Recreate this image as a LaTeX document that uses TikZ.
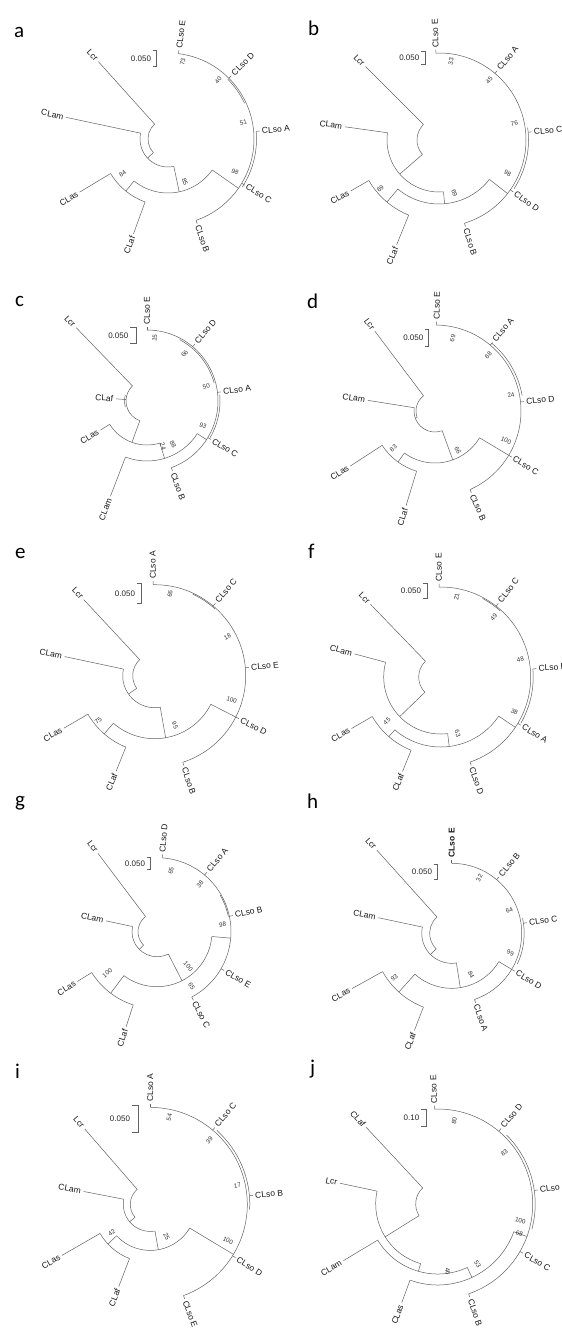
\documentclass[tikz,border=0pt]{standalone}
\usepackage{fontspec}
\setmainfont{Liberation Sans}
\newfontfamily\letterfont{Carlito}
\tikzset{
 br/.style={line width=0.5pt, draw=black!62},
 lab/.style={font=\fontsize{8.5}{10}\selectfont, inner sep=0.6pt, text=black!90},
 bsl/.style={font=\fontsize{6.3}{7}\selectfont, inner sep=0pt, text=black!80},
 plet/.style={font=\letterfont\fontsize{21}{24}\selectfont, inner sep=0pt, anchor=base west},
 sbt/.style={font=\fontsize{8}{9}\selectfont, inner sep=0pt, anchor=east, text=black!85}
}
\newcommand\tArc[3]{\draw[br] ({#2}:{#1}) arc[start angle={#2}, end angle={#3}, radius={#1}];}
\newcommand\tRad[3]{\draw[br] ({#1}:{#2}) -- ({#1}:{#3});}
\newcommand\lfL[4]{\draw[br] ({#1}:{#2}) -- ({#1}:{#3}); \node[lab,rotate={#1-180},anchor=east] at ({#1}:{#3+2}) {#4};}
\newcommand\so[3]{\draw[br] ({#1}:{#2}) -- ({#1}:{#2+3.5}); \node[lab,rotate={#1},anchor=west] at ({#1}:{#2+5}) {#3};}
\newcommand\bsv[3]{%
  \pgfmathsetmacro\bsx{(#1-\zcx)/3}%
  \pgfmathsetmacro\bsy{(\zcy-#2)/3}%
  \pgfmathsetmacro\bsa{atan2(\bsy,\bsx)}%
  \pgfmathsetmacro\bsr{ifthenelse(abs(\bsa)>90,\bsa+180,\bsa)}%
  \node[bsl,rotate=\bsr] at (\bsx,\bsy) {#3};}
\newcommand\scb[5]{\draw[br] (#1,-#3) -- (#2,-#3) -- (#2,-#4) -- (#1,-#4); \node[sbt] at ({#1-1.5},{-(#3+#4)/2}) {#5};}
\begin{document}
\begin{tikzpicture}[x=1pt,y=1pt]
\useasboundingbox (0,0) rectangle (562,-1331);
% panel letters
\node[plet] (la) at (14,-37) {a};
\node[plet] (lb) at (308,-35) {b};
\node[plet] (lc) at (15,-306) {c};
\node[plet] (ld) at (307,-308) {d};
\node[plet] (le) at (15,-558) {e};
\node[plet] (lf) at (308,-558) {f};
\node[plet] (lg) at (15,-806) {g};
\node[plet] (lh) at (307,-808) {h};
\node[plet] (li) at (15,-1078) {i};
\node[plet] (lj) at (310,-1074) {j};
% scale bars
\scb{152.7}{156}{50.7}{66}{0.050}
\scb{421}{425}{51}{64}{0.050}
\scb{130}{136}{327.7}{343.3}{0.050}
\scb{425}{428.3}{329.3}{346.7}{0.050}
\scb{136.7}{141.7}{583}{603.7}{0.050}
\scb{422.7}{427.7}{583.7}{598.7}{0.050}
\scb{146.7}{150.7}{857.3}{869.7}{0.050}
\scb{433.7}{437.7}{864}{879.7}{0.050}
\scb{131.7}{138.3}{1105.7}{1132.3}{0.050}
\scb{421}{426}{1109}{1126.3}{0.10}
% ---- a
\begin{scope}[shift={(168,-139)}]
\def\zcx{504}\def\zcy{416}
\tArc{20}{132}{223} \lfL{132}{20}{104}{Lcr} \tRad{223}{20}{28}
\tArc{28}{168}{282} \lfL{168}{28}{104}{CLam}
\tRad{282}{28}{54} \tArc{54}{231}{325}
\tRad{231}{54}{67} \tArc{67}{211}{250} \lfL{211}{67}{103}{CLas} \lfL{250}{67}{101}{CLaf}
\tRad{325}{54}{86}
\tArc{86}{83}{-71} \tArc{88.5}{5}{-33} \tArc{84.5}{45}{25}
\so{83}{86}{CLso E} \so{45}{86}{CLso D} \so{5}{88.5}{CLso A} \so{-31}{86}{CLso C} \so{-71}{86}{CLso B}
\bsv{548}{185}{73} \bsv{655}{240}{40} \bsv{730}{367}{51} \bsv{705}{515}{98} \bsv{555}{545}{85} \bsv{368}{520}{84}
\end{scope}
% ---- b
\begin{scope}[shift={(439,-140)}]
\def\zcx{474}\def\zcy{420}
\tArc{22}{135}{221} \lfL{135}{22}{104}{Lcr} \tRad{221}{22}{52}
\tArc{52}{172}{275} \lfL{172}{52}{95}{CLam}
\tRad{275}{52}{64} \tArc{64}{230}{322}
\tRad{230}{64}{81} \tArc{81}{210}{248} \lfL{210}{81}{102}{CLas} \lfL{248}{81}{113}{CLaf}
\tRad{322}{64}{87}
\tArc{87}{92}{-73} \tArc{89.5}{8}{-33}
\so{92}{87}{CLso E} \so{50}{87}{CLso A} \so{5}{89.5}{CLso C} \so{-35}{87}{CLso D} \so{-73}{87}{CLso B}
\bsv{510}{185}{33} \bsv{625}{240}{45} \bsv{700}{370}{76} \bsv{680}{520}{98} \bsv{520}{580}{69} \bsv{298}{567}{69}
\end{scope}
% ---- c
\begin{scope}[shift={(147,-401)}]
\def\zcx{442}\def\zcy{404}
\tArc{21}{134}{250} \lfL{134}{21}{102}{Lcr} \lfL{176}{21}{31}{CLaf} \tArc{22.5}{165}{195}
\tRad{250}{21}{44} \tArc{44}{212}{287} \lfL{212}{44}{55}{CLas}
\tRad{287}{44}{60} \tArc{60}{249}{327} \lfL{249}{60}{102}{CLam}
\tRad{327}{60}{71}
\tArc{71}{90}{-70} \tArc{73}{5}{-30} \tArc{69.5}{62}{15}
\so{90}{71}{CLso E} \so{50}{71}{CLso D} \so{7}{71}{CLso A} \so{-31}{71}{CLso C} \so{-70}{71}{CLso B}
\bsv{465}{215}{15} \bsv{555}{262}{66} \bsv{620}{360}{50} \bsv{610}{478}{93} \bsv{490}{540}{24} \bsv{520}{535}{88}
\end{scope}
% ---- d
\begin{scope}[shift={(435,-411)}]
\def\zcx{462}\def\zcy{436}
\tArc{19}{127}{200} \lfL{127}{19}{100}{Lcr} \tRad{200}{19}{21}
\tArc{21}{171}{290} \lfL{171}{21}{68}{CLam}
\tRad{290}{21}{52} \tArc{52}{234}{329}
\tRad{234}{52}{63} \tArc{63}{213}{253} \lfL{213}{63}{101}{CLas} \lfL{253}{63}{99}{CLaf}
\tRad{329}{52}{86}
\tArc{86}{89}{-66} \tArc{88.5}{50}{10}
\so{89}{86}{CLso E} \so{50}{86}{CLso A} \so{6}{86}{CLso D} \so{-31}{86}{CLso C} \so{-66}{86}{CLso B}
\bsv{515}{218}{69} \bsv{622}{268}{68} \bsv{690}{388}{24} \bsv{675}{525}{100} \bsv{530}{555}{66} \bsv{337}{548}{83}
\end{scope}
% ---- e
\begin{scope}[shift={(154.7,-675.7)}]
\def\zcx{464}\def\zcy{431}
\tArc{22}{133}{215} \lfL{133}{22}{104}{Lcr} \tRad{215}{22}{32}
\tArc{32}{168}{280} \lfL{168}{32}{92}{CLam}
\tRad{280}{32}{63} \tArc{63}{229}{333}
\tRad{229}{63}{77} \tArc{77}{210}{248} \lfL{210}{77}{105}{CLas} \lfL{248}{77}{103}{CLaf}
\tRad{333}{63}{91}
\tArc{91}{91}{-72} \tArc{90}{65}{48}
\so{91}{91}{CLso A} \so{50}{91}{CLso C} \so{5}{91}{CLso E} \so{-27}{91}{CLso D} \so{-72}{91}{CLso B}
\bsv{510}{185}{66} \bsv{682}{315}{18} \bsv{695}{505}{100} \bsv{525}{580}{95} \bsv{295}{565}{75}
\end{scope}
% ---- f
\begin{scope}[shift={(440.7,-677)}]
\def\zcx{479}\def\zcy{435}
\tArc{22}{134}{224} \lfL{134}{22}{101}{Lcr} \tRad{224}{22}{57}
\tArc{57}{165}{277} \lfL{165}{57}{89}{CLam}
\tRad{277}{57}{70} \tArc{70}{229}{326}
\tRad{229}{70}{79} \tArc{79}{210}{248} \lfL{210}{79}{103}{CLas} \lfL{248}{79}{102}{CLaf}
\tRad{326}{70}{90}
\tArc{90}{91}{-71} \tArc{92.5}{5}{-30} \tArc{89}{62}{48}
\so{91}{90}{CLso E} \so{52}{90}{CLso C} \so{5}{92.5}{CLso B} \so{-31}{90}{CLso A} \so{-71}{90}{CLso D}
\bsv{527}{195}{21} \bsv{638}{255}{49} \bsv{718}{383}{48} \bsv{700}{540}{38} \bsv{530}{605}{63} \bsv{318}{568}{45}
\end{scope}
% ---- g
\begin{scope}[shift={(157,-931.7)}]
\def\zcx{471}\def\zcy{401}
\tArc{19}{127}{225} \lfL{127}{19}{98}{Lcr} \tRad{225}{19}{25}
\tArc{25}{168}{297} \lfL{168}{25}{52}{CLam}
\tRad{297}{25}{55} \tArc{55}{233}{355}
\tRad{233}{55}{77} \tArc{77}{212}{252} \lfL{212}{77}{94}{CLas} \lfL{252}{77}{100}{CLaf}
\tRad{355}{55}{74}
\tArc{74}{86}{-62} \tArc{73}{30}{12}
\so{86}{74}{CLso D} \so{50}{74}{CLso A} \so{12}{74}{CLso B} \so{-30}{74}{CLso E} \so{-62}{74}{CLso C}
\bsv{513}{218}{65} \bsv{600}{258}{38} \bsv{668}{380}{98} \bsv{565}{505}{100} \bsv{575}{565}{65} \bsv{322}{525}{100}
\end{scope}
% ---- h
\begin{scope}[shift={(451.7,-933.3)}]
\def\zcx{512}\def\zcy{406}
\tArc{22}{132}{225} \lfL{132}{22}{112}{Lcr} \tRad{225}{22}{30}
\tArc{30}{168}{279} \lfL{168}{30}{75}{CLam}
\tRad{279}{30}{55} \tArc{55}{228}{329}
\tRad{228}{55}{79} \tArc{79}{209}{249} \lfL{209}{79}{114}{CLas} \lfL{249}{79}{104}{CLaf}
\tRad{329}{55}{70}
\tArc{70}{90}{-71} \tArc{72.5}{12}{-25}
\so{90}{70}{\textbf{CLso E}} \so{50}{70}{CLso B} \so{8}{72.5}{CLso C} \so{-31}{70}{CLso D} \so{-71}{70}{CLso A}
\bsv{595}{240}{32} \bsv{685}{338}{64} \bsv{688}{465}{99} \bsv{570}{530}{84} \bsv{340}{540}{93}
\end{scope}
% ---- i
\begin{scope}[shift={(150.3,-1204.4)}]
\def\zcx{451}\def\zcy{421}
\tArc{20}{131}{220} \lfL{131}{20}{100}{Lcr} \tRad{220}{20}{27}
\tArc{27}{169}{280} \lfL{169}{27}{68}{CLam}
\tRad{280}{27}{46} \tArc{46}{223}{329}
\tRad{223}{46}{58} \tArc{58}{210}{249} \lfL{210}{58}{102}{CLas} \lfL{249}{58}{88}{CLaf}
\tRad{329}{46}{97}
\tArc{97}{90}{-70} \tArc{99.5}{48}{-3}
\so{90}{97}{CLso A} \so{50}{97}{CLso C} \so{5}{99.5}{CLso B} \so{-32}{97}{CLso D} \so{-70}{97}{CLso E}
\bsv{508}{160}{54} \bsv{628}{228}{39} \bsv{712}{365}{17} \bsv{684}{530}{100} \bsv{500}{518}{25} \bsv{335}{505}{42}
\end{scope}
% ---- j
\begin{scope}[shift={(437.7,-1204)}]
\def\zcx{470}\def\zcy{420}
\tArc{22}{133}{212} \lfL{133}{22}{105}{CLaf} \tRad{212}{22}{62}
\tArc{62}{168}{254} \lfL{168}{62}{100}{Lcr}
\tRad{254}{62}{70} \tArc{70}{211}{295} \lfL{211}{70}{110}{CLam}
\tRad{295}{70}{81} \tArc{81}{250}{340} \lfL{250}{81}{105}{CLas}
\tRad{340}{81}{95}
\tArc{95}{92}{-71} \tArc{97.5}{45}{-15}
\so{92}{95}{CLso E} \so{50}{95}{CLso D} \so{8}{97.5}{CLso A} \so{-30}{95}{CLso C} \so{-71}{95}{CLso B}
\bsv{520}{170}{80} \bsv{670}{265}{83} \bsv{718}{470}{100} \bsv{715}{508}{68} \bsv{590}{600}{53} \bsv{500}{622}{46}
\end{scope}
\end{tikzpicture}
\end{document}
